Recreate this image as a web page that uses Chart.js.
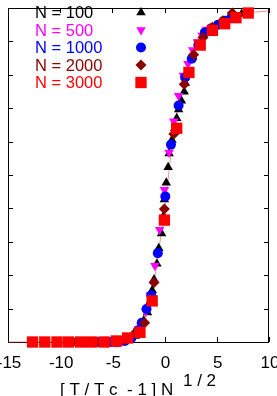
<!DOCTYPE html>
<html>
<head>
<meta charset="utf-8">
<script src="https://cdn.jsdelivr.net/npm/chart.js@4.4.1/dist/chart.umd.min.js"></script>
<style>
  html, body { margin: 0; padding: 0; background: #fff; }
  canvas { display: block; }
</style>
</head>
<body>
<canvas id="scaling" width="277" height="396"></canvas>
<script>
// axis ticks
const xTicks = [-15, -10, -5, 0, 5, 10];
const xTickLabels = ['-15', '-10', '-5', '0', '5', '10'];
const yTicks = [0, 0.1, 0.2, 0.3, 0.4, 0.5, 0.6, 0.7, 0.8, 0.9, 1];

// N = 100
const n100X = [-5.97, -4.62, -3.99, -3.27, -2.82, -2.36, -2.0, -1.64, -1.37, -1.19, -1.01, -0.74, -0.56, -0.29, -0.11, -0.02, 0.16, 0.34, 0.43, 0.7, 0.97, 1.16, 1.34, 1.61, 1.88, 1.97, 2.69, 3.5, 4.4, 5.4, 7.38];
const n100Y = [0, 0, 0.003, 0.006, 0.018, 0.041, 0.064, 0.088, 0.123, 0.155, 0.187, 0.234, 0.281, 0.325, 0.377, 0.427, 0.477, 0.523, 0.564, 0.605, 0.64, 0.67, 0.696, 0.722, 0.749, 0.775, 0.854, 0.9, 0.936, 0.959, 0.982];

// N = 500
const n500X = [-5.43, -4.98, -4.53, -4.08, -3.63, -3.18, -2.72, -2.27, -1.81, -1.37, -0.92, -0.47, -0.02, 0.43, 0.88, 1.34, 1.79, 2.24, 2.69, 3.14, 3.59, 4.04];
const n500Y = [0, 0, 0, 0.003, 0.006, 0.012, 0.026, 0.05, 0.091, 0.14, 0.228, 0.336, 0.456, 0.567, 0.661, 0.737, 0.798, 0.833, 0.874, 0.898, 0.918, 0.936];

// N = 1000
const n1000X = [-6.97, -6.34, -5.7, -5.07, -4.44, -3.81, -3.18, -2.54, -2.18, -1.73, -1.28, -0.65, 0.07, 0.61, 1.34, 1.97, 2.6, 3.23, 3.86, 4.49, 5.12, 5.76, 6.39];
const n1000Y = [0, 0, 0, 0, 0, 0.003, 0.012, 0.035, 0.058, 0.099, 0.14, 0.266, 0.436, 0.591, 0.708, 0.792, 0.848, 0.889, 0.927, 0.939, 0.95, 0.962, 0.971];

// N = 2000
const n2000X = [-8.5, -7.51, -6.61, -5.61, -4.71, -3.81, -2.83, -1.91, -1.01, -0.02, 0.88, 1.88, 2.78, 3.68, 4.58, 5.58, 6.48];
const n2000Y = [0, 0, 0, 0, 0, 0.006, 0.026, 0.058, 0.178, 0.398, 0.623, 0.772, 0.86, 0.912, 0.942, 0.962, 0.985];

// N = 3000
const n3000X = [-12.65, -11.48, -10.31, -9.22, -8.05, -6.97, -5.79, -4.62, -3.54, -2.36, -1.19, -0.02, 1.16, 2.33, 3.41, 4.58, 5.76, 6.84, 8.01];
const n3000Y = [0, 0, 0, 0, 0, 0, 0, 0.003, 0.012, 0.029, 0.123, 0.365, 0.64, 0.807, 0.889, 0.933, 0.953, 0.971, 0.985];

// thin guide curve
const fitX = [-15, -5.97, -4.17, -2.82, -1.91, -1.28, -0.74, -0.38, -0.02, 0.34, 0.7, 1.07, 1.43, 1.97, 2.6, 3.5, 4.86, 6.24, 8.01, 10];
const fitY = [0, 0, 0.003, 0.02, 0.064, 0.129, 0.234, 0.313, 0.386, 0.488, 0.59, 0.664, 0.716, 0.78, 0.848, 0.898, 0.942, 0.968, 0.985, 0.991];

const FONT = '"Liberation Sans", Arial, Helvetica, sans-serif';

const toPoints = (xs, ys) => xs.map((x, i) => ({ x, y: ys[i] }));

const series = [
  { label: 'N = 100', xs: n100X, ys: n100Y, color: '#000000', pointStyle: 'triangle', radius: 5.5, rotation: 0, order: 5 },
  { label: 'N = 500', xs: n500X, ys: n500Y, color: '#ff00ff', pointStyle: 'triangle', radius: 5.5, rotation: 180, order: 4 },
  { label: 'N = 1000', xs: n1000X, ys: n1000Y, color: '#0000ff', pointStyle: 'circle', radius: 5, rotation: 0, order: 3 },
  { label: 'N = 2000', xs: n2000X, ys: n2000Y, color: '#8b0000', pointStyle: 'rectRot', radius: 5.5, rotation: 0, order: 2 },
  { label: 'N = 3000', xs: n3000X, ys: n3000Y, color: '#ff0000', pointStyle: 'rect', radius: 8, rotation: 0, order: 1 },
];

const datasets = series.map((s) => ({
  label: s.label,
  data: toPoints(s.xs, s.ys),
  showLine: false,
  pointStyle: s.pointStyle,
  pointRotation: s.rotation,
  pointRadius: s.radius,
  pointBackgroundColor: s.color,
  pointBorderWidth: 0,
  order: s.order,
  clip: false,
}));

datasets.push({
  label: 'fit',
  data: toPoints(fitX, fitY),
  showLine: true,
  borderColor: 'rgba(255, 60, 60, 0.55)',
  borderWidth: 1,
  pointRadius: 0,
  cubicInterpolationMode: 'monotone',
  order: 6,
  clip: false,
});

const framePlugin = {
  id: 'frame',
  beforeDatasetsDraw(chart) {
    const { ctx, chartArea: a, scales: { x, y } } = chart;
    ctx.save();
    ctx.strokeStyle = '#000';
    ctx.lineWidth = 1;
    ctx.strokeRect(a.left + 0.5, a.top + 0.5, a.right - a.left - 1, a.bottom - a.top);
    ctx.beginPath();
    xTicks.forEach((v) => {
      const px = Math.round(x.getPixelForValue(v)) + 0.5;
      ctx.moveTo(px, a.bottom); ctx.lineTo(px, a.bottom - 5);
      ctx.moveTo(px, a.top); ctx.lineTo(px, a.top + 5);
    });
    yTicks.forEach((v) => {
      const py = Math.round(y.getPixelForValue(v)) + 0.5;
      ctx.moveTo(a.left, py); ctx.lineTo(a.left + 5, py);
      ctx.moveTo(a.right, py); ctx.lineTo(a.right - 5, py);
    });
    ctx.stroke();

    ctx.fillStyle = '#000';
    ctx.font = `17px ${FONT}`;
    ctx.textAlign = 'center';
    ctx.textBaseline = 'alphabetic';
    xTicks.forEach((v, i) => {
      ctx.fillText(xTickLabels[i], x.getPixelForValue(v) + 1, 368);
    });

    // axis title
    ctx.textAlign = 'left';
    ctx.fillText('[ T / T c  - 1 ] N', 60, 395);
    ctx.fillText('1 / 2', 183, 386);
    ctx.restore();
  },
};

const legendPlugin = {
  id: 'keyBox',
  afterDatasetsDraw(chart) {
    const { ctx } = chart;
    ctx.save();
    ctx.font = `16.5px ${FONT}`;
    ctx.textAlign = 'left';
    ctx.textBaseline = 'alphabetic';
    series.forEach((s, i) => {
      const base = 18 + i * 17.5;
      ctx.fillStyle = s.color;
      ctx.fillText(s.label, 35, base);
      Chart.helpers.drawPoint(ctx, {
        pointStyle: s.pointStyle,
        radius: s.radius,
        rotation: s.rotation,
        borderWidth: 0,
      }, 141, base - 5.5);
    });
    ctx.restore();
  },
};

new Chart(document.getElementById('scaling'), {
  type: 'scatter',
  data: { datasets },
  options: {
    responsive: false,
    animation: false,
    devicePixelRatio: 1,
    layout: { padding: { left: 0, right: 0, top: 0, bottom: 54 } },
    plugins: { legend: { display: false }, tooltip: { enabled: false } },
    scales: {
      x: { type: 'linear', min: -15, max: 10, display: false },
      y: { type: 'linear', min: 0, max: 1, display: false },
    },
  },
  plugins: [framePlugin, legendPlugin],
});
</script>
</body>
</html>
